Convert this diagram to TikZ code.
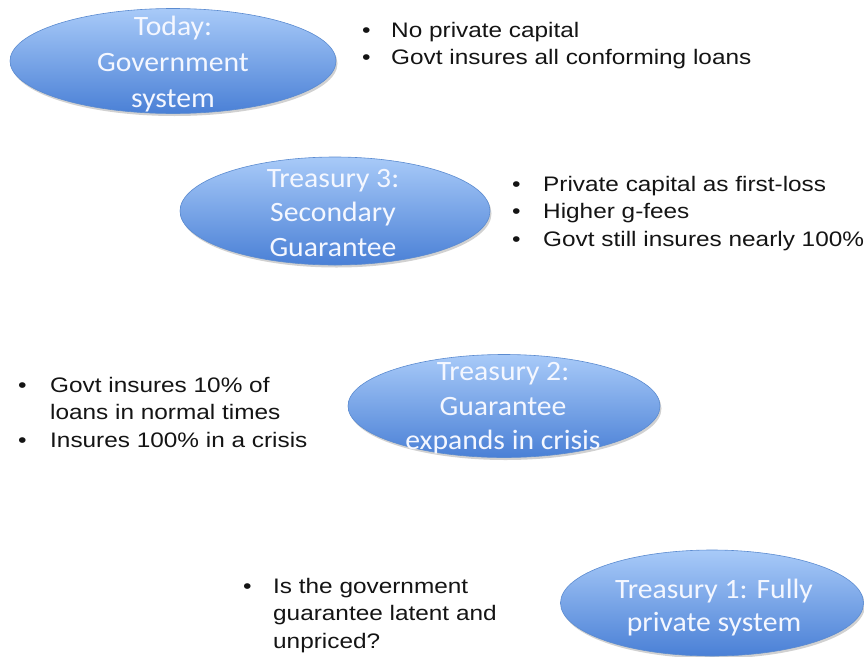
\documentclass[tikz,border=0pt]{standalone}
\usepackage{fontspec}
\setmainfont[FakeStretch=1.16]{Liberation Sans}
\newfontfamily\ellfont[FakeStretch=1.06]{Carlito}
\usetikzlibrary{shapes.geometric,shadows}
\definecolor{elltop}{HTML}{A8CAF8}
\definecolor{ellbot}{HTML}{4A80D6}
\definecolor{ellline}{HTML}{5B8BD0}
\definecolor{elltext}{HTML}{F4F7FF}
\tikzset{
  stage/.style={ellipse, draw=ellline, line width=0.6pt, top color=elltop, bottom color=ellbot,
    inner sep=0pt,
    drop shadow={shadow xshift=1.5pt, shadow yshift=-2.5pt, opacity=0.3, fill=black!60}},
  stagetext/.style={inner sep=0pt, align=center, text=elltext,
    font=\ellfont\fontsize{28}{36}\selectfont},
  bullets/.style={anchor=base west, inner sep=0pt, text=black!92,
    font=\fontsize{21}{27.8}\selectfont}
}
\newcommand{\bl}{\textbullet}
\begin{document}
\begin{tikzpicture}[x=1pt,y=-1pt]
\useasboundingbox (0,0) rectangle (864,656);
\node[stage, minimum width=326pt, minimum height=105pt] (today) at (173,61) {};
\node[stagetext] (todaytxt) at (173,64) {Today:\\Government\\system};
\node[stage, minimum width=310pt, minimum height=108pt] (t3) at (335,211) {};
\node[stagetext, font=\ellfont\fontsize{28}{34.5}\selectfont] (t3txt) at (333,213) {Treasury 3:\\Secondary\\Guarantee};
\node[stage, minimum width=312pt, minimum height=103pt] (t2) at (504,406) {};
\node[stagetext, font=\ellfont\fontsize{28}{34.5}\selectfont] (t2txt) at (503,408.5) {Treasury 2:\\Guarantee\\expands in crisis};
\node[stage, minimum width=303pt, minimum height=106pt] (t1) at (712,603) {};
\node[stagetext, font=\ellfont\fontsize{28}{33.5}\selectfont] (t1txt) at (714,607.5) {Treasury 1: Fully\\private system};

\node[bullets] (b1) at (362,37) {\begin{tabular}[t]{@{}p{29pt}@{}l@{}}
\bl & No private capital\\
\bl & Govt insures all conforming loans
\end{tabular}};
\node[bullets] (b3) at (512,191) {\begin{tabular}[t]{@{}p{31pt}@{}l@{}}
\bl & Private capital as first-loss\\
\bl & Higher g-fees\\
\bl & Govt still insures nearly 100\%
\end{tabular}};
\node[bullets] (b2) at (18,392) {\begin{tabular}[t]{@{}p{32pt}@{}l@{}}
\bl & Govt insures 10\% of\\
 & loans in normal times\\
\bl & Insures 100\% in a crisis
\end{tabular}};
\node[bullets] (b4) at (243,593) {\begin{tabular}[t]{@{}p{30pt}@{}l@{}}
\bl & Is the government\\
 & guarantee latent and\\
 & unpriced?
\end{tabular}};
\end{tikzpicture}
\end{document}
